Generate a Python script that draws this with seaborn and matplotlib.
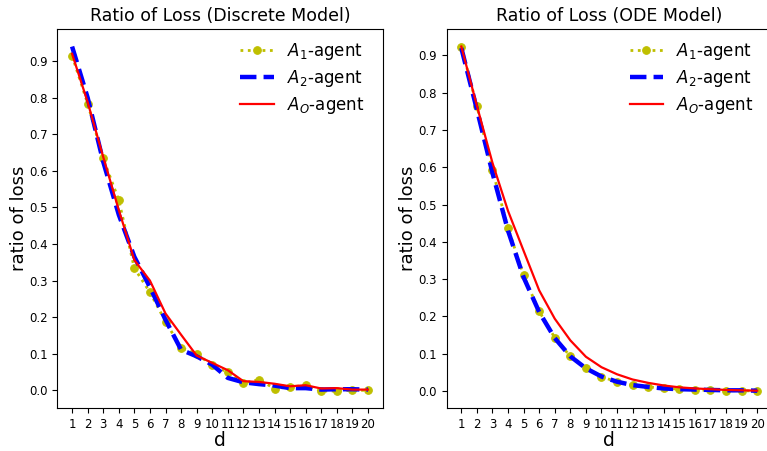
import numpy as np
import matplotlib
matplotlib.use('Agg')
import matplotlib.pyplot as plt
import seaborn as sns

# depth values
d = list(range(1, 21))

# Discrete model
a1_disc = [0.915, 0.784, 0.634, 0.520, 0.334, 0.268, 0.188, 0.116, 0.100, 0.068,
           0.050, 0.020, 0.029, 0.005, 0.009, 0.014, -0.002, -0.002, 0.000, 0.000]
a2_disc = [0.940, 0.800, 0.625, 0.480, 0.365, 0.282, 0.193, 0.111, 0.093, 0.070,
           0.034, 0.022, 0.017, 0.013, 0.006, 0.006, 0.002, 0.003, 0.003, 0.002]
ao_disc = [0.920, 0.788, 0.638, 0.493, 0.356, 0.300, 0.210, 0.152, 0.095, 0.075,
           0.055, 0.025, 0.023, 0.018, 0.011, 0.014, 0.005, 0.006, 0.002, 0.002]

# ODE model
a1_ode = [0.924, 0.764, 0.592, 0.437, 0.310, 0.214, 0.143, 0.093, 0.062, 0.039,
          0.024, 0.015, 0.011, 0.008, 0.005, 0.003, 0.002, 0.001, 0.001, 0.000]
a2_ode = [0.920, 0.755, 0.585, 0.430, 0.305, 0.212, 0.142, 0.093, 0.061, 0.039,
          0.025, 0.016, 0.011, 0.007, 0.005, 0.004, 0.003, 0.002, 0.002, 0.001]
ao_ode = [0.924, 0.765, 0.612, 0.483, 0.376, 0.270, 0.194, 0.136, 0.092, 0.064,
          0.045, 0.031, 0.022, 0.015, 0.010, 0.007, 0.005, 0.003, 0.002, 0.001]

titles = ['Ratio of Loss (Discrete Model)', 'Ratio of Loss (ODE Model)']
panels = [(a1_disc, a2_disc, ao_disc), (a1_ode, a2_ode, ao_ode)]

fig = plt.figure(figsize=(7.67, 4.51), dpi=100)
ax1 = fig.add_axes([0.0747, 0.0947, 0.4243, 0.8403])
ax2 = fig.add_axes([0.5822, 0.0947, 0.4243, 0.8403])

for ax, (a1, a2, ao), title in zip([ax1, ax2], panels, titles):
    sns.lineplot(x=d, y=a1, ax=ax, color='y', linestyle=':', linewidth=2,
                 marker='o', markersize=5.5, markeredgecolor='y',
                 label=r'$A_1$-agent')
    sns.lineplot(x=d, y=a2, ax=ax, color='b', linestyle='--', linewidth=3.2,
                 label=r'$A_2$-agent')
    sns.lineplot(x=d, y=ao, ax=ax, color='r', linestyle='-', linewidth=1.6,
                 label=r'$A_O$-agent')
    ax.set_title(title, fontsize=12.5)
    ax.set_xlabel('d', fontsize=13.5, labelpad=0)
    ax.set_ylabel('ratio of loss', fontsize=13, labelpad=1)
    ax.set_xticks(d)
    ax.set_yticks(np.arange(0, 1.0, 0.1))
    ax.tick_params(labelsize=8.5)
    ax.legend(loc='upper right', bbox_to_anchor=(0.98, 1.0), fontsize=12,
              frameon=False, labelspacing=0.35, borderaxespad=0.3)

plt.savefig('out.png', dpi=100)
